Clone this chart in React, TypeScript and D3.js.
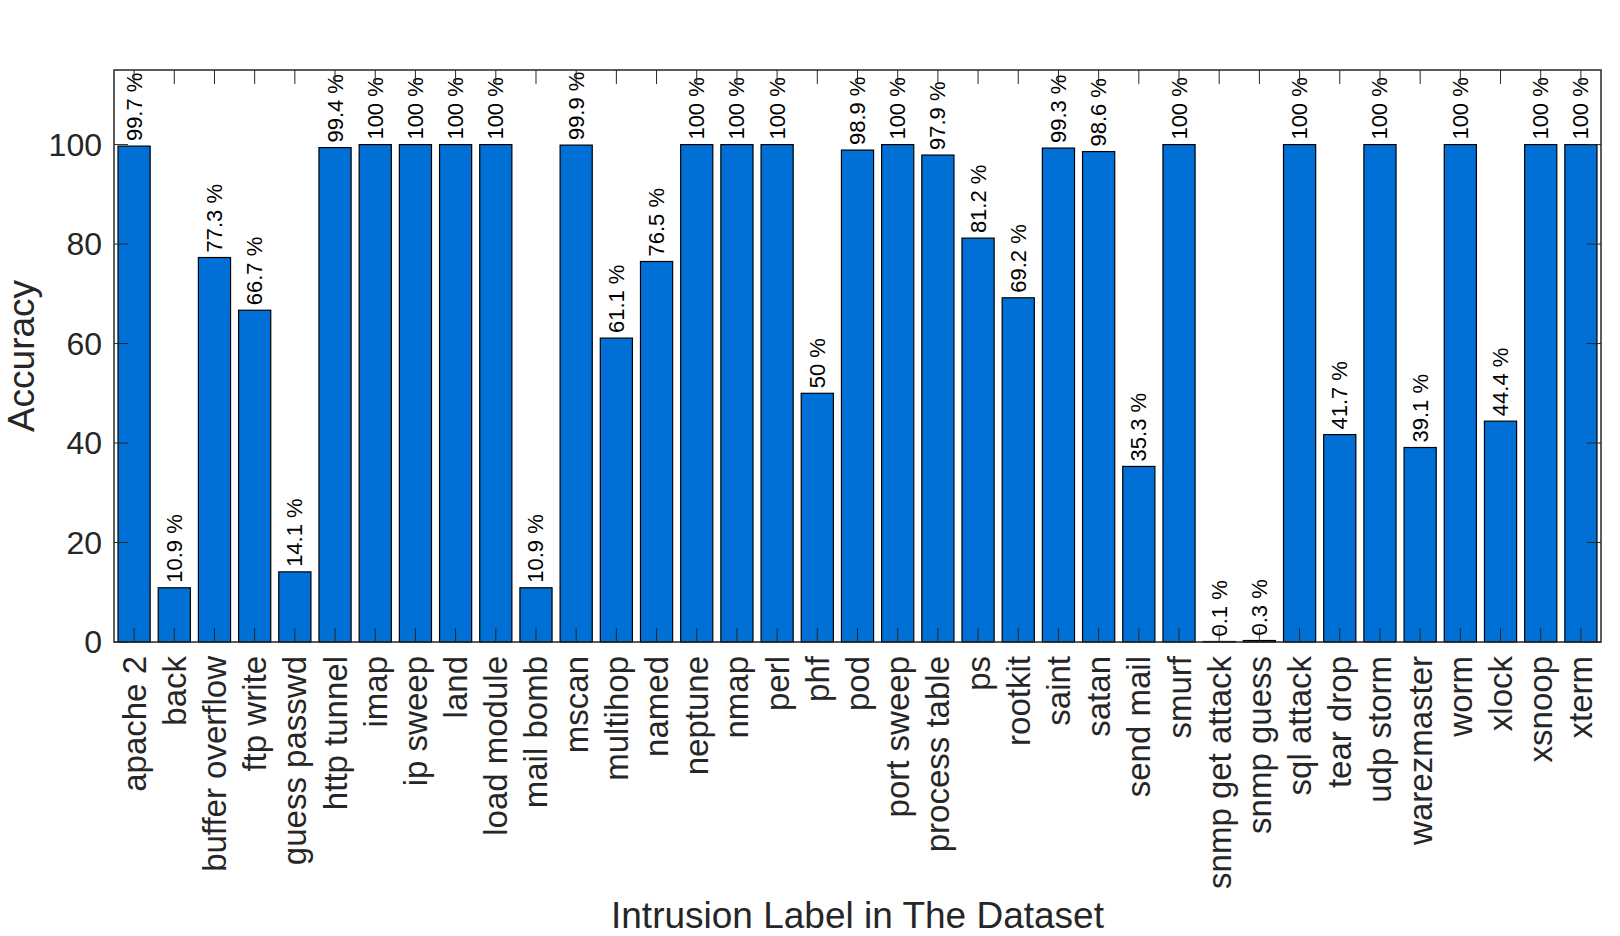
import React, { useRef, useEffect } from 'react';
import * as d3 from 'd3';

const labels = [
  'apache 2', 'back', 'buffer overflow', 'ftp write', 'guess passwd', 'http tunnel',
  'imap', 'ip sweep', 'land', 'load module', 'mail bomb', 'mscan', 'multihop',
  'named', 'neptune', 'nmap', 'perl', 'phf', 'pod', 'port sweep', 'process table',
  'ps', 'rootkit', 'saint', 'satan', 'send mail', 'smurf', 'snmp get attack',
  'snmp guess', 'sql attack', 'tear drop', 'udp storm', 'warezmaster', 'worm',
  'xlock', 'xsnoop', 'xterm'
];

const accuracy = [
  99.7, 10.9, 77.3, 66.7, 14.1, 99.4,
  100, 100, 100, 100, 10.9, 99.9, 61.1,
  76.5, 100, 100, 100, 50, 98.9, 100, 97.9,
  81.2, 69.2, 99.3, 98.6, 35.3, 100, 0.1,
  0.3, 100, 41.7, 100, 39.1, 100,
  44.4, 100, 100
];

const yTicks = [0, 20, 40, 60, 80, 100];

const FONT = '"Liberation Sans", Arial, Helvetica, sans-serif';
const AXIS = '#262626';
const BAR = '#0070d6';

const App: React.FC = () => {
  const ref = useRef<SVGSVGElement | null>(null);

  useEffect(() => {
    const width = 1620;
    const height = 936;
    const left = 114, right = 1601, top = 70, bottom = 642;
    const tick = 14;

    const svg = d3.select(ref.current);
    svg.selectAll('*').remove();
    svg.attr('width', width).attr('height', height);

    const x = d3.scaleBand<string>().domain(labels).range([left, right]).paddingInner(0.2).paddingOuter(0.1);
    const cx = (l: string) => (x(l) as number) + x.bandwidth() / 2;
    const y = d3.scaleLinear().domain([0, 115]).range([bottom, top]);

    // bars
    svg.append('g')
      .selectAll('rect')
      .data(labels)
      .join('rect')
      .attr('x', (d) => x(d) as number)
      .attr('width', x.bandwidth())
      .attr('y', (_, i) => y(accuracy[i]))
      .attr('height', (_, i) => bottom - y(accuracy[i]))
      .attr('fill', BAR)
      .attr('stroke', '#000')
      .attr('stroke-width', 1.2);

    // value labels
    svg.append('g')
      .selectAll('text')
      .data(labels)
      .join('text')
      .attr('transform', (d, i) => `translate(${cx(d)},${y(accuracy[i]) - 5}) rotate(-90)`)
      .attr('text-anchor', 'start')
      .attr('dominant-baseline', 'central')
      .attr('font-family', FONT)
      .attr('font-size', 22)
      .attr('fill', '#000')
      .text((_, i) => `${accuracy[i]} %`);

    // box
    const axes = svg.append('g').attr('stroke', AXIS).attr('stroke-width', 1.5).attr('fill', 'none');
    axes.append('rect').attr('x', left).attr('y', top).attr('width', right - left).attr('height', bottom - top);

    // ticks (inside, all four sides)
    labels.forEach((l) => {
      axes.append('line').attr('x1', cx(l)).attr('x2', cx(l)).attr('y1', bottom).attr('y2', bottom - tick).attr('stroke-width', 1);
      axes.append('line').attr('x1', cx(l)).attr('x2', cx(l)).attr('y1', top).attr('y2', top + tick).attr('stroke-width', 1);
    });
    yTicks.forEach((t) => {
      axes.append('line').attr('x1', left).attr('x2', left + tick).attr('y1', y(t)).attr('y2', y(t)).attr('stroke-width', 1);
      axes.append('line').attr('x1', right).attr('x2', right - tick).attr('y1', y(t)).attr('y2', y(t)).attr('stroke-width', 1);
    });

    // y tick labels
    svg.append('g')
      .selectAll('text')
      .data(yTicks)
      .join('text')
      .attr('x', left - 12)
      .attr('y', (d) => y(d))
      .attr('text-anchor', 'end')
      .attr('dominant-baseline', 'central')
      .attr('font-family', FONT)
      .attr('font-size', 32)
      .attr('fill', AXIS)
      .text((d) => d);

    // x tick labels
    svg.append('g')
      .selectAll('text')
      .data(labels)
      .join('text')
      .attr('transform', (d) => `translate(${cx(d)},${bottom + 14}) rotate(-90)`)
      .attr('text-anchor', 'end')
      .attr('dominant-baseline', 'central')
      .attr('font-family', FONT)
      .attr('font-size', 33)
      .attr('fill', AXIS)
      .text((d) => d);

    // axis titles
    svg.append('text')
      .attr('x', (left + right) / 2)
      .attr('y', 928)
      .attr('text-anchor', 'middle')
      .attr('font-family', FONT)
      .attr('font-size', 37)
      .attr('fill', AXIS)
      .text('Intrusion Label in The Dataset');

    svg.append('text')
      .attr('transform', `translate(21,${(top + bottom) / 2}) rotate(-90)`)
      .attr('text-anchor', 'middle')
      .attr('dominant-baseline', 'central')
      .attr('font-family', FONT)
      .attr('font-size', 37)
      .attr('fill', AXIS)
      .text('Accuracy');
  }, []);

  return (
    <div>
      <style>{'body{margin:0}'}</style>
      <svg ref={ref} style={{ display: 'block', background: '#fff' }} />
    </div>
  );
};

export default App;
